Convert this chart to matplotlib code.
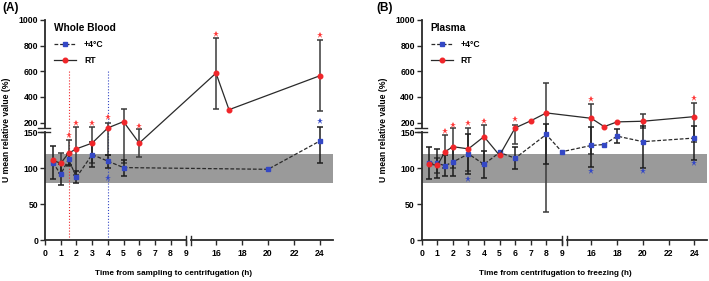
import numpy as np
import matplotlib
matplotlib.use("Agg")
from matplotlib import pyplot as plt
from matplotlib.lines import Line2D

plt.rcParams['font.family'] = ['Liberation Sans', 'DejaVu Sans']
plt.rcParams['font.weight'] = 'bold'

nan = np.nan

# ---- data (A: whole blood) ----
a_rt_t = [0.5, 1, 1.5, 2, 3, 4, 5, 6, 16, 17, 24]
a_rt = [111, 107, 121, 127, 135, 158, 207, 135, 585, 300, 565]
a_rt_sd = [nan, 14, 18, 36, 28, 40, 100, 19, 277, nan, 278]
a_c4_t = [0.5, 1, 1.5, 2, 3, 4, 5, 20, 24]
a_c4 = [108, 91.5, 112.5, 87.5, 119, 110, 101, 98.6, 138]
a_c4_sd = [23, 14, 7.5, 8.5, 17, 9, 11, nan, 30]
a_star_rt_t = [1.5, 2, 3, 4, 6, 16, 24]
a_star_rt = [146, 195, 195, 240, 176, 892, 884]
a_star_c4_t = [4, 24]
a_star_c4 = [87, 210]
a_cut_t = [1.5, 4]
a_cut_top = 607

# ---- data (B: plasma) ----
b_rt_t = [0.5, 1, 1.5, 2, 3, 4, 5, 6, 7, 8, 16, 17, 18, 20, 24]
b_rt = [106, 104, 123, 130, 127, 144, 118, 158, 213, 275, 233, 168, 205, 210, 246]
b_rt_sd = [nan, 11, 23, 30, 31, 38, nan, 24, nan, 236, 113, nan, nan, 55, 110]
b_c4_t = [0.5, 1, 1.5, 2, 3, 4, 5, 6, 8, 9, 16, 17, 18, 20, 24]
b_c4 = [107, 107, 103.6, 108.7, 120, 105.5, 122, 114, 147, 123, 131.7, 133, 144.7, 137, 142]
b_c4_sd = [22, 20, 14.5, 19, 28, 19, nan, 15.4, 41, nan, 30, nan, 10, 36, 30]
b_star_rt_t = [1.5, 2, 3, 4, 6, 16, 24]
b_star_rt = [152, 183, 194, 210, 228, 380, 393]
b_star_c4_t = [3, 16, 20, 24]
b_star_c4 = [85, 96, 96, 107]

x_ticks = [0, 1, 2, 3, 4, 5, 6, 7, 8, 9, 16, 18, 20, 22, 24]
y_ticks = [0, 50, 100, 150, 200, 400, 600, 800, 1000]
band = (80, 120)

RED = '#f0262a'
BLUE = '#3448c5'
INK = '#2a2a2a'


def piecewise(xs, ps):
    xs = np.asarray(xs, float)
    ps = np.asarray(ps, float)

    def make(a, b):
        def f(v):
            v = np.asarray(v, float)
            out = np.interp(v, a, b)
            out = np.where(v < a[0], b[0] + (v - a[0]) * (b[1] - b[0]) / (a[1] - a[0]), out)
            out = np.where(v > a[-1], b[-1] + (v - a[-1]) * (b[-1] - b[-2]) / (a[-1] - a[-2]), out)
            return out
        return f
    return make(xs, ps), make(ps, xs)


fx, ix = piecewise([0, 9, 14.1, 25], [0, 141.3, 146.3, 288])
fy, iy = piecewise([0, 150, 155, 1000], [0, 108, 112, 220.4])


def panel(ax, rt_t, rt, rt_sd, c4_t, c4, c4_sd, srt_t, srt, sc4_t, sc4,
          title, xlabel, xlab_x, cut_t=None, cut_top=None):
    ax.set_xscale('function', functions=(fx, ix))
    ax.set_yscale('function', functions=(fy, iy))
    ax.set_xlim(0, 25)
    ax.set_ylim(0, 1000)

    ax.axhspan(band[0], band[1], color='#9a9a9a', lw=0, zorder=0)

    if cut_t is not None:
        ax.vlines(cut_t, 0, cut_top, colors=[RED, BLUE], linestyles=':', lw=0.8, zorder=1)

    ax.errorbar(rt_t, rt, yerr=rt_sd, fmt='none', ecolor='#3a3a3a', elinewidth=1.1,
                capsize=2.2, capthick=1.1, zorder=2)
    ax.errorbar(c4_t, c4, yerr=c4_sd, fmt='none', ecolor='#1e1e1e', elinewidth=1.1,
                capsize=2.2, capthick=1.1, zorder=2)

    ax.plot(c4_t, c4, ls=(0, (3, 1.5)), color=INK, lw=0.9, marker='s', ms=3,
            mfc=BLUE, mec=BLUE, zorder=3)
    ax.plot(rt_t, rt, ls='-', color=INK, lw=0.9, marker='o', ms=3.3,
            mfc=RED, mec=RED, zorder=4)

    ax.plot(srt_t, srt, ls='none', marker='*', ms=5, color='#ff3b3b', mew=0, zorder=5)
    ax.plot(sc4_t, sc4, ls='none', marker='*', ms=5, color=BLUE, mew=0, zorder=5)

    # axes with breaks
    for s in ax.spines.values():
        s.set_visible(False)
    yt = ax.get_yaxis_transform()
    xt = ax.get_xaxis_transform()
    ax.plot([0, 0], [0, 150], transform=yt, color=INK, lw=1.3, clip_on=False)
    ax.plot([0, 0], [155, 1000], transform=yt, color=INK, lw=1.3, clip_on=False)
    for yb in (150, 155):
        ax.plot([-0.025, 0.018], [yb, yb], transform=yt, color=INK, lw=1, clip_on=False)
    ax.plot([0, 9.1], [0, 0], transform=xt, color=INK, lw=1.3, clip_on=False)
    ax.plot([14.1, 25], [0, 0], transform=xt, color=INK, lw=1.3, clip_on=False)
    for xb in (9.1, 14.1):
        ax.plot([xb, xb], [-0.02, 0.02], transform=xt, color=INK, lw=1, clip_on=False)

    ax.set_xticks(x_ticks)
    ax.set_xticklabels([str(t) for t in x_ticks])
    ax.set_yticks(y_ticks)
    ax.set_yticklabels([str(t) for t in y_ticks])
    ax.tick_params(axis='both', direction='out', length=3.5, width=1, color=INK,
                   labelsize=6.2, pad=1.5)
    ax.tick_params(axis='x', pad=2.5)
    for lab in ax.get_xticklabels() + ax.get_yticklabels():
        lab.set_fontweight('bold')

    ax.set_xlabel(xlabel, fontsize=5.9, fontweight='bold')
    ax.xaxis.set_label_coords(xlab_x, -0.135)
    ax.set_ylabel('U mean relative value (%)', fontsize=6.2, fontweight='bold')
    ax.yaxis.set_label_coords(-0.118, 0.5)

    handles = [
        Line2D([], [], ls=(0, (3, 1.5)), color=INK, lw=0.9, marker='s', ms=3, mfc=BLUE, mec=BLUE),
        Line2D([], [], ls='-', color=INK, lw=0.9, marker='o', ms=3.3, mfc=RED, mec=RED),
    ]
    leg = ax.legend(handles, ['+4°C', 'RT'], loc='upper left', bbox_to_anchor=(0.025, 0.995),
                    frameon=False, fontsize=6.2, title=title, title_fontsize=7.3,
                    handlelength=2.6, handletextpad=0.9, labelspacing=0.85,
                    borderaxespad=0, borderpad=0.2, alignment='left', numpoints=1)
    leg.get_title().set_fontweight('bold')


fig = plt.figure(figsize=(7.09, 2.81), dpi=100)
axA = fig.add_axes([45 / 709, 1 - 240.3 / 281, 288 / 709, 220.4 / 281])
axB = fig.add_axes([421.7 / 709, 1 - 240.3 / 281, 285.6 / 709, 220.4 / 281])

panel(axA, a_rt_t, a_rt, a_rt_sd, a_c4_t, a_c4, a_c4_sd,
      a_star_rt_t, a_star_rt, a_star_c4_t, a_star_c4,
      'Whole Blood', 'Time from sampling to centrifugation (h)', 0.448, a_cut_t, a_cut_top)
panel(axB, b_rt_t, b_rt, b_rt_sd, b_c4_t, b_c4, b_c4_sd,
      b_star_rt_t, b_star_rt, b_star_c4_t, b_star_c4,
      'Plasma', 'Time from centrifugation to freezing (h)', 0.467)

fig.text(2 / 709, 1 - 8 / 281, '(A)', fontsize=8.5, fontweight='bold', va='center', ha='left')
fig.text(376 / 709, 1 - 8 / 281, '(B)', fontsize=8.5, fontweight='bold', va='center', ha='left')

fig.savefig('out.png', dpi=100)
